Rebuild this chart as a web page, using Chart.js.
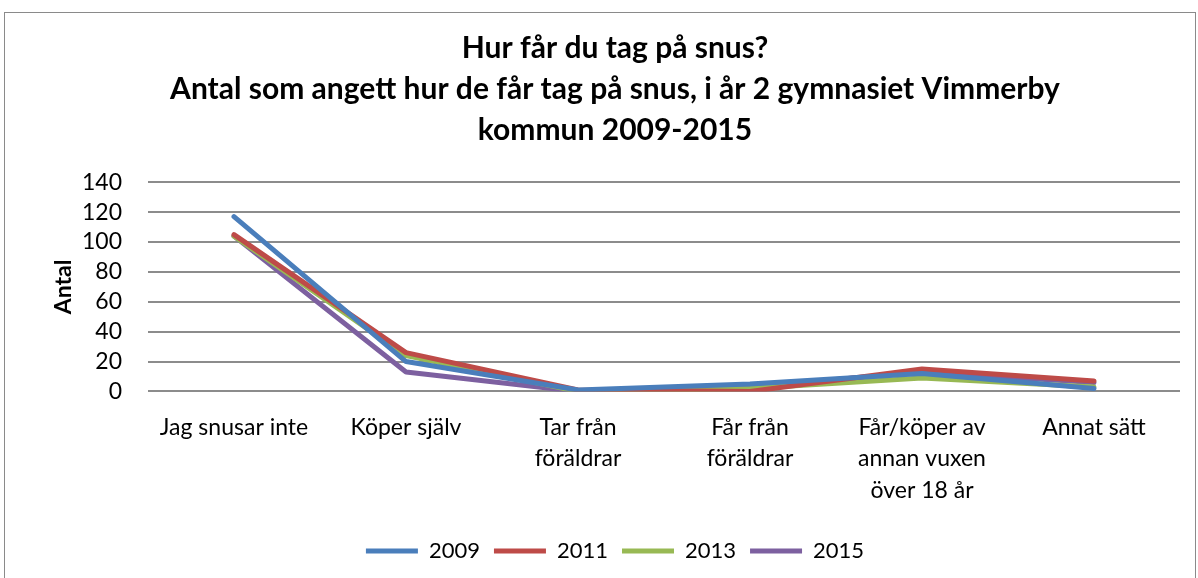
<!DOCTYPE html>
<html>
<head>
<meta charset="utf-8">
<script src="https://cdn.jsdelivr.net/npm/chart.js@4"></script>
<style>
  html, body { margin: 0; padding: 0; background: #fff; }
  #frame { position: absolute; left: 4px; top: 12px; width: 1192px; height: 580px; border: 1px solid #8a8a8a; box-sizing: border-box; }
  #wrap { position: absolute; left: 0; top: 0; width: 1198px; height: 578px; }
</style>
</head>
<body>
<div id="frame"></div>
<div id="wrap"><canvas id="c" width="1198" height="578"></canvas></div>
<script>
const categories = [
  "Jag snusar inte",
  ["Köper själv"],
  ["Tar från", "föräldrar"],
  ["Får från", "föräldrar"],
  ["Får/köper av", "annan vuxen", "över 18 år"],
  "Annat sätt"
];
const years = ["2009", "2011", "2013", "2015"];
const values2009 = [117, 20, 1, 5, 12, 2];
const values2011 = [105, 26, 1, 0, 15, 7];
const values2013 = [104, 24, 0, 2, 9, 3];
const values2015 = [104, 13, 0, 3, 13, 6];
const colors = ["#4a7ebb", "#be4b48", "#98b954", "#7d60a0"];
const titleLines = [
  "Hur får du tag på snus?",
  "Antal som angett hur de får tag på snus, i år 2 gymnasiet Vimmerby",
  "kommun 2009-2015"
];
const yTicks = [0, 20, 40, 60, 80, 100, 120, 140];

const FONT = "Lato, 'Open Sans', sans-serif";
const series = [values2009, values2011, values2013, values2015];

new Chart(document.getElementById('c'), {
  type: 'line',
  data: {
    labels: categories,
    datasets: series.map((v, i) => ({
      label: years[i],
      data: v,
      borderColor: colors[i],
      backgroundColor: colors[i],
      borderWidth: 5,
      pointRadius: 0,
      pointStyle: 'line',
      borderCapStyle: 'round',
      borderJoinStyle: 'round',
      tension: 0,
      fill: false
    }))
  },
  options: {
    responsive: false,
    animation: false,
    layout: { padding: { left: 50, right: 18, top: 28, bottom: 6 } },
    plugins: {
      title: {
        display: true,
        text: titleLines,
        color: '#000',
        font: { family: FONT, size: 30, weight: 'bold', lineHeight: 1.37 },
        padding: { top: 0, bottom: 31 }
      },
      legend: {
        position: 'bottom',
        labels: {
          usePointStyle: true,
          pointStyleWidth: 52,
          boxHeight: 5,
          color: '#000',
          font: { family: FONT, size: 22 },
          padding: 14
        }
      },
      tooltip: { enabled: false }
    },
    scales: {
      x: {
        offset: true,
        grid: { display: false, drawTicks: false },
        border: { display: false },
        ticks: {
          color: '#000',
          font: { family: FONT, size: 23, lineHeight: 1.37 },
          padding: 20,
          maxRotation: 0,
          autoSkip: false
        }
      },
      y: {
        min: 0,
        max: 140,
        afterBuildTicks: (scale) => { scale.ticks = yTicks.map(v => ({ value: v })); },
        afterFit: (scale) => { scale.width = 98; },
        grid: { color: '#8c8c8c', lineWidth: 2, drawTicks: false },
        border: { display: false },
        ticks: {
          color: '#000',
          font: { family: FONT, size: 23 },
          padding: 26,
          autoSkip: false
        },
        title: {
          display: true,
          text: 'Antal',
          color: '#000',
          font: { family: FONT, size: 23, weight: 'bold' },
          padding: { top: 0, bottom: 8 }
        }
      }
    }
  }
});
</script>
</body>
</html>
